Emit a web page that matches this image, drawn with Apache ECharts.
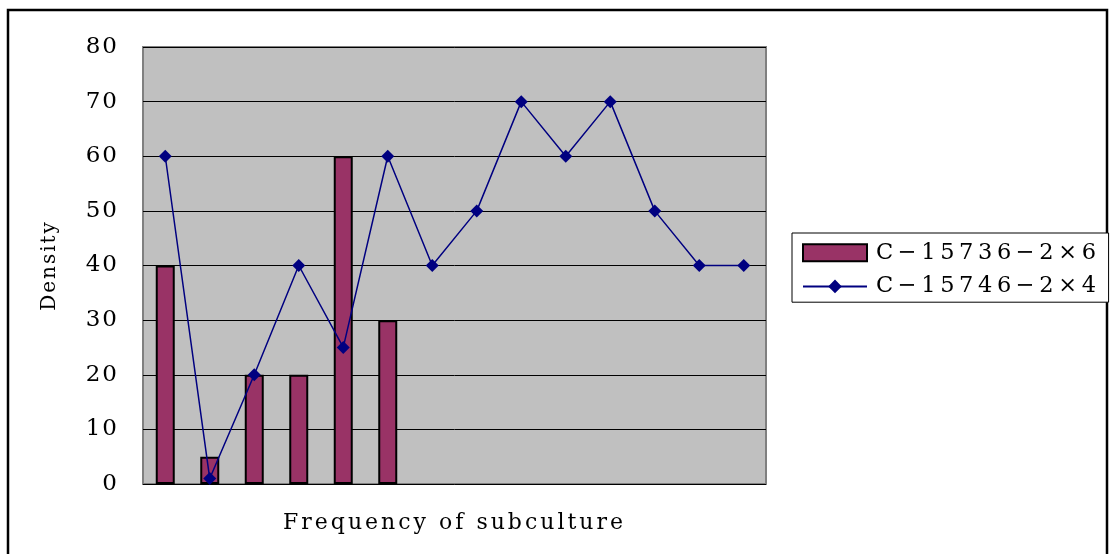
<!DOCTYPE html>
<html><head><meta charset="utf-8">
<script src="https://cdn.jsdelivr.net/npm/echarts@6/dist/echarts.min.js"></script>
<style>html,body{margin:0;padding:0;background:#fff}#c{width:1112px;height:554px}</style>
</head><body><div id="c"></div>
<script>
const categories = ['1','2','3','4','5','6','7','8','9','10','11','12','13','14'];
const barName = 'C−15736−2×6';
const lineName = 'C−15746−2×4';
const barValues = [40, 5, 20, 20, 60, 30, null, null, null, null, null, null, null, null];
const lineValues = [60, 1, 20, 40, 25, 60, 40, 50, 70, 60, 70, 50, 40, 40];
const yTicks = { min: 0, max: 80, interval: 10 };
const xName = 'Frequency of subculture';
const yName = 'Density';

// wide letter spacing like the original Batang-style rendering (depends on font size)
(function () {
  const spacing = {'20': '2px', '22.5': '4.6px', '22': '3px', '23': '2px'};
  const p = CanvasRenderingContext2D.prototype;
  const of = p.fillText, om = p.measureText;
  function setLS(ctx) {
    const m = /([\d.]+)px/.exec(ctx.font || '');
    ctx.letterSpacing = (m && spacing[m[1]]) || '0px';
  }
  p.fillText = function () { setLS(this); return of.apply(this, arguments); };
  p.measureText = function () { setLS(this); return om.apply(this, arguments); };
})();

const FONT = 'DejaVu Serif';
const chart = echarts.init(document.getElementById('c'), null, {renderer: 'canvas'});
chart.setOption({
  animation: false,
  backgroundColor: '#fff',
  textStyle: {fontFamily: FONT, color: '#000'},
  grid: {left: 143, top: 47, width: 623, height: 437, show: true,
         backgroundColor: '#C0C0C0', borderColor: '#808080', borderWidth: 2},
  graphic: [{type: 'rect', shape: {x: 8, y: 10, width: 1099, height: 560},
             style: {fill: 'none', stroke: '#000', lineWidth: 2.5}, silent: true}],
  legend: {
    left: 792, top: 233, orient: 'vertical', itemWidth: 64, itemHeight: 17, itemGap: 6,
    padding: [6, 8, 2, 10], borderColor: '#000', borderWidth: 1, backgroundColor: '#fff',
    textStyle: {fontFamily: FONT, fontSize: 22.5, color: '#000', padding: [0, 0, 0, 4]},
    data: [{name: barName, icon: 'rect'}, {name: lineName}]
  },
  xAxis: {
    type: 'category', data: categories, boundaryGap: true,
    axisLine: {show: false}, axisTick: {show: false}, axisLabel: {show: false},
    name: xName, nameLocation: 'middle', nameGap: 27,
    nameTextStyle: {fontFamily: FONT, fontSize: 22, color: '#000'}
  },
  yAxis: {
    type: 'value', min: yTicks.min, max: yTicks.max, interval: yTicks.interval,
    axisLine: {show: false}, axisTick: {show: false},
    axisLabel: {margin: 24, fontFamily: FONT, fontSize: 23, color: '#000'},
    splitLine: {show: true, lineStyle: {color: '#000', width: 1}},
    name: yName, nameLocation: 'middle', nameGap: 82, nameRotate: 90,
    nameTextStyle: {fontFamily: FONT, fontSize: 20, color: '#000'}
  },
  series: [
    {type: 'bar', name: barName, data: barValues, barWidth: 19,
     itemStyle: {color: '#993366', borderColor: '#000', borderWidth: 2}},
    {type: 'line', name: lineName, data: lineValues, symbol: 'diamond', symbolSize: 13,
     lineStyle: {color: '#000080', width: 1.5}, itemStyle: {color: '#000080'}}
  ]
});
</script></body></html>
